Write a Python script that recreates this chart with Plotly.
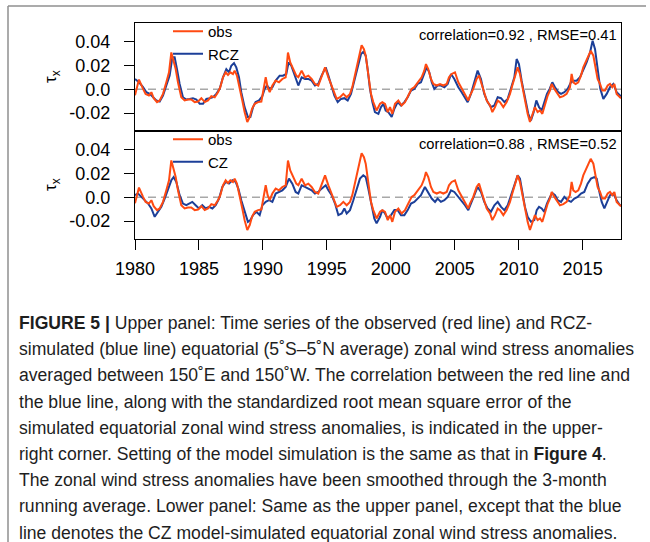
import plotly.graph_objects as go
from plotly.subplots import make_subplots

# ---------------- data ----------------
obs_t = [1980.00, 1980.31, 1980.63, 1980.83, 1981.09, 1981.28, 1981.46, 1981.72, 1981.93, 1982.19,
         1982.45, 1982.66, 1982.84, 1982.97, 1983.18, 1983.36, 1983.62, 1983.88, 1984.14, 1984.40,
         1984.67, 1984.93, 1985.19, 1985.45, 1985.71, 1985.97, 1986.23, 1986.49, 1986.67, 1986.88,
         1987.09, 1987.27, 1987.45, 1987.66, 1987.79, 1987.97, 1988.18, 1988.39, 1988.57, 1988.78,
         1988.97, 1989.15, 1989.36, 1989.62, 1989.88, 1990.06, 1990.22, 1990.37, 1990.53, 1990.74,
         1991.00, 1991.26, 1991.52, 1991.78, 1991.96, 1992.14, 1992.35, 1992.61, 1992.77, 1993.03,
         1993.29, 1993.55, 1993.81, 1994.07, 1994.33, 1994.59, 1994.86, 1995.12, 1995.32, 1995.51,
         1995.77, 1996.03, 1996.29, 1996.55, 1996.81, 1996.99, 1997.20, 1997.41, 1997.59, 1997.72,
         1997.90, 1998.04, 1998.24, 1998.45, 1998.63, 1998.89, 1999.16, 1999.34, 1999.55, 1999.76,
         1999.94, 2000.12, 2000.33, 2000.59, 2000.85, 2001.11, 2001.37, 2001.63, 2001.84, 2002.02,
         2002.21, 2002.41, 2002.62, 2002.75, 2002.93, 2003.14, 2003.33, 2003.59, 2003.85, 2004.11,
         2004.37, 2004.55, 2004.76, 2005.02, 2005.28, 2005.54, 2005.80, 2006.06, 2006.19, 2006.45,
         2006.71, 2006.90, 2007.10, 2007.31, 2007.50, 2007.76, 2007.94, 2008.15, 2008.36, 2008.54,
         2008.80, 2009.06, 2009.32, 2009.50, 2009.71, 2009.92, 2010.10, 2010.28, 2010.49, 2010.70,
         2010.88, 2011.07, 2011.27, 2011.48, 2011.67, 2011.85, 2012.06, 2012.27, 2012.45, 2012.58,
         2012.79, 2012.97, 2013.23, 2013.49, 2013.75, 2014.01, 2014.14, 2014.27, 2014.45, 2014.66,
         2014.87, 2015.05, 2015.24, 2015.44, 2015.63, 2015.84, 2015.97, 2016.17, 2016.36, 2016.54,
         2016.75, 2016.96, 2017.14, 2017.32, 2017.48, 2017.66, 2017.92, 2018.00]
obs_v = [-0.0050, 0.0081, 0.0003, -0.0039, -0.0053, -0.0025, -0.0075, -0.0108, -0.0094, -0.0039,
         0.0058, 0.0142, 0.0308, 0.0253, 0.0169, 0.0058, -0.0067, -0.0094, -0.0086, -0.0086,
         -0.0108, -0.0103, -0.0075, -0.0108, -0.0094, -0.0058, -0.0067, -0.0025, 0.0017, 0.0100,
         0.0142, 0.0119, 0.0142, 0.0128, 0.0156, 0.0114, 0.0017, -0.0094, -0.0192, -0.0275,
         -0.0233, -0.0164, -0.0122, -0.0108, -0.0103, -0.0011, 0.0100, 0.0017, -0.0025, 0.0031,
         0.0072, 0.0058, 0.0086, 0.0100, 0.0308, 0.0225, 0.0169, 0.0114, 0.0100, 0.0156,
         0.0100, 0.0114, 0.0086, 0.0044, 0.0031, 0.0114, 0.0183, 0.0100, 0.0044, -0.0025,
         -0.0081, -0.0067, -0.0039, -0.0067, -0.0039, 0.0017, 0.0128, 0.0225, 0.0308, 0.0369,
         0.0336, 0.0281, 0.0114, -0.0039, -0.0108, -0.0178, -0.0122, -0.0108, -0.0122, -0.0192,
         -0.0150, -0.0206, -0.0122, -0.0094, -0.0136, -0.0108, -0.0053, 0.0003, 0.0017, 0.0044,
         0.0064, 0.0100, 0.0156, 0.0211, 0.0169, 0.0086, 0.0044, 0.0031, 0.0044, 0.0031,
         0.0044, 0.0100, 0.0128, 0.0142, 0.0058, 0.0003, -0.0039, -0.0094, -0.0053, 0.0003,
         0.0086, 0.0114, 0.0044, -0.0039, -0.0094, -0.0136, -0.0192, -0.0150, -0.0094, -0.0108,
         -0.0150, -0.0108, -0.0039, 0.0031, 0.0114, 0.0183, 0.0128, 0.0017, -0.0108, -0.0206,
         -0.0275, -0.0219, -0.0150, -0.0192, -0.0178, -0.0206, -0.0122, -0.0053, -0.0011, 0.0044,
         0.0003, -0.0025, -0.0067, -0.0058, -0.0039, 0.0017, 0.0128, 0.0058, 0.0044, 0.0058,
         0.0114, 0.0183, 0.0225, 0.0281, 0.0322, 0.0281, 0.0197, 0.0086, 0.0044, -0.0011,
         -0.0011, 0.0031, 0.0044, 0.0017, 0.0044, -0.0039, -0.0067, -0.0075]

rcz_t = [1980.00, 1980.31, 1980.63, 1980.89, 1981.15, 1981.41, 1981.67, 1981.93, 1982.19, 1982.45,
         1982.71, 1982.92, 1983.10, 1983.28, 1983.49, 1983.75, 1984.01, 1984.27, 1984.53, 1984.80,
         1985.06, 1985.32, 1985.58, 1985.84, 1986.10, 1986.36, 1986.62, 1986.88, 1987.14, 1987.35,
         1987.53, 1987.74, 1987.92, 1988.13, 1988.31, 1988.57, 1988.83, 1989.02, 1989.23, 1989.43,
         1989.70, 1989.96, 1990.14, 1990.32, 1990.53, 1990.74, 1991.00, 1991.31, 1991.57, 1991.83,
         1992.01, 1992.22, 1992.48, 1992.77, 1993.03, 1993.29, 1993.55, 1993.81, 1994.07, 1994.33,
         1994.59, 1994.91, 1995.12, 1995.38, 1995.59, 1995.85, 1996.11, 1996.37, 1996.63, 1996.89,
         1997.15, 1997.41, 1997.67, 1997.85, 1998.04, 1998.19, 1998.37, 1998.56, 1998.76, 1999.03,
         1999.23, 1999.42, 1999.60, 1999.81, 2000.07, 2000.28, 2000.54, 2000.80, 2001.06, 2001.32,
         2001.58, 2001.84, 2002.10, 2002.36, 2002.62, 2002.80, 2003.01, 2003.20, 2003.40, 2003.66,
         2003.92, 2004.19, 2004.45, 2004.71, 2004.97, 2005.28, 2005.54, 2005.80, 2006.01, 2006.27,
         2006.53, 2006.79, 2007.05, 2007.31, 2007.57, 2007.83, 2008.10, 2008.36, 2008.62, 2008.88,
         2009.14, 2009.40, 2009.66, 2009.84, 2010.02, 2010.23, 2010.49, 2010.75, 2010.96, 2011.17,
         2011.38, 2011.59, 2011.80, 2012.00, 2012.21, 2012.42, 2012.63, 2012.84, 2013.10, 2013.31,
         2013.57, 2013.83, 2014.09, 2014.30, 2014.53, 2014.79, 2015.05, 2015.31, 2015.58, 2015.78,
         2015.97, 2016.17, 2016.38, 2016.62, 2016.88, 2017.14, 2017.40, 2017.66, 2017.92, 2018.00]
rcz_v = [0.0086, 0.0058, 0.0017, -0.0025, -0.0039, -0.0067, -0.0094, -0.0103, -0.0053, 0.0031,
         0.0114, 0.0267, 0.0267, 0.0169, 0.0044, -0.0067, -0.0086, -0.0081, -0.0075, -0.0086,
         -0.0122, -0.0122, -0.0081, -0.0075, -0.0067, -0.0039, 0.0003, 0.0100, 0.0169, 0.0142,
         0.0197, 0.0219, 0.0183, 0.0100, -0.0025, -0.0150, -0.0233, -0.0233, -0.0150, -0.0108,
         -0.0094, -0.0058, 0.0003, 0.0031, 0.0003, 0.0017, 0.0072, 0.0114, 0.0114, 0.0128,
         0.0225, 0.0197, 0.0114, 0.0031, 0.0100, 0.0086, 0.0086, 0.0072, 0.0031, 0.0044,
         0.0114, 0.0183, 0.0114, 0.0031, -0.0053, -0.0108, -0.0081, -0.0075, -0.0094, -0.0039,
         0.0072, 0.0197, 0.0294, 0.0314, 0.0281, 0.0169, 0.0003, -0.0108, -0.0192, -0.0206,
         -0.0150, -0.0122, -0.0178, -0.0192, -0.0233, -0.0164, -0.0108, -0.0136, -0.0108, -0.0067,
         -0.0011, 0.0003, 0.0044, 0.0058, 0.0142, 0.0183, 0.0142, 0.0058, 0.0003, 0.0031,
         0.0031, 0.0017, 0.0044, 0.0128, 0.0086, 0.0017, -0.0025, -0.0067, -0.0108, -0.0039,
         0.0058, 0.0156, 0.0086, -0.0039, -0.0108, -0.0150, -0.0136, -0.0067, -0.0075, -0.0108,
         -0.0081, 0.0003, 0.0100, 0.0253, 0.0211, 0.0072, -0.0081, -0.0206, -0.0261, -0.0192,
         -0.0094, -0.0150, -0.0178, -0.0108, -0.0039, 0.0003, 0.0058, 0.0017, -0.0025, -0.0039,
         -0.0025, 0.0003, 0.0058, 0.0072, 0.0072, 0.0100, 0.0156, 0.0225, 0.0308, 0.0406,
         0.0336, 0.0169, 0.0003, -0.0081, -0.0039, 0.0017, 0.0044, -0.0025, -0.0053, -0.0060]

cz_t = [1980.00, 1980.23, 1980.50, 1980.76, 1981.02, 1981.28, 1981.54, 1981.80, 1982.06, 1982.32,
        1982.58, 1982.84, 1983.02, 1983.23, 1983.49, 1983.75, 1984.01, 1984.27, 1984.48, 1984.74,
        1985.00, 1985.26, 1985.53, 1985.79, 1986.05, 1986.31, 1986.57, 1986.83, 1987.09, 1987.35,
        1987.61, 1987.87, 1988.08, 1988.31, 1988.57, 1988.83, 1989.02, 1989.23, 1989.49, 1989.75,
        1989.96, 1990.22, 1990.48, 1990.74, 1991.00, 1991.26, 1991.52, 1991.78, 1992.04, 1992.30,
        1992.56, 1992.77, 1993.03, 1993.29, 1993.55, 1993.81, 1994.07, 1994.33, 1994.59, 1994.91,
        1995.12, 1995.38, 1995.64, 1995.90, 1996.16, 1996.37, 1996.55, 1996.81, 1997.07, 1997.33,
        1997.59, 1997.85, 1998.04, 1998.24, 1998.45, 1998.71, 1998.89, 1999.16, 1999.34, 1999.55,
        1999.76, 2000.02, 2000.28, 2000.54, 2000.80, 2001.06, 2001.32, 2001.58, 2001.84, 2002.10,
        2002.36, 2002.67, 2002.93, 2003.20, 2003.46, 2003.66, 2003.92, 2004.19, 2004.45, 2004.71,
        2004.97, 2005.28, 2005.54, 2005.80, 2006.06, 2006.32, 2006.58, 2006.79, 2007.05, 2007.31,
        2007.57, 2007.83, 2008.10, 2008.36, 2008.62, 2008.88, 2009.14, 2009.40, 2009.66, 2009.92,
        2010.10, 2010.28, 2010.49, 2010.70, 2010.96, 2011.22, 2011.41, 2011.59, 2011.80, 2012.00,
        2012.21, 2012.45, 2012.63, 2012.84, 2013.05, 2013.31, 2013.57, 2013.83, 2014.09, 2014.35,
        2014.61, 2014.87, 2015.13, 2015.39, 2015.65, 2015.91, 2016.10, 2016.28, 2016.49, 2016.70,
        2016.90, 2017.14, 2017.40, 2017.66, 2017.92, 2018.00]
cz_v = [0.0017, 0.0031, 0.0003, -0.0025, -0.0053, -0.0094, -0.0164, -0.0122, -0.0081, -0.0011,
        0.0072, 0.0142, 0.0169, 0.0128, 0.0017, -0.0053, -0.0067, -0.0053, -0.0039, -0.0067,
        -0.0094, -0.0067, -0.0094, -0.0081, -0.0094, -0.0067, -0.0011, 0.0086, 0.0128, 0.0114,
        0.0142, 0.0128, 0.0072, -0.0025, -0.0122, -0.0206, -0.0192, -0.0150, -0.0122, -0.0150,
        -0.0067, -0.0039, -0.0025, -0.0039, 0.0031, 0.0044, 0.0058, 0.0086, 0.0156, 0.0114,
        0.0044, 0.0031, 0.0100, 0.0086, 0.0072, 0.0058, 0.0031, 0.0044, 0.0072, 0.0100,
        0.0058, 0.0017, -0.0053, -0.0150, -0.0136, -0.0094, -0.0136, -0.0108, -0.0025, 0.0072,
        0.0156, 0.0183, 0.0169, 0.0072, -0.0053, -0.0178, -0.0219, -0.0164, -0.0108, -0.0136,
        -0.0178, -0.0150, -0.0108, -0.0108, -0.0150, -0.0150, -0.0108, -0.0053, -0.0039, -0.0011,
        0.0017, 0.0086, 0.0044, -0.0011, -0.0039, -0.0011, -0.0039, -0.0025, 0.0003, 0.0058,
        0.0044, 0.0003, -0.0025, -0.0067, -0.0108, -0.0039, 0.0044, 0.0086, 0.0044, -0.0039,
        -0.0094, -0.0122, -0.0067, -0.0039, -0.0081, -0.0108, -0.0067, 0.0017, 0.0100, 0.0183,
        0.0156, 0.0044, -0.0081, -0.0164, -0.0206, -0.0192, -0.0108, -0.0081, -0.0094, -0.0122,
        -0.0053, 0.0003, 0.0036, 0.0017, -0.0025, -0.0039, 0.0003, -0.0025, -0.0039, -0.0011,
        0.0003, 0.0031, 0.0044, 0.0114, 0.0156, 0.0169, 0.0156, 0.0058, -0.0039, -0.0094,
        -0.0039, 0.0017, 0.0031, -0.0025, -0.0067, -0.0070]

x_tickvals = [1980, 1985, 1990, 1995, 2000, 2005, 2010, 2015]
x_ticktext = ["1980", "1985", "1990", "1995", "2000", "2005", "2010", "2015"]
y_tickvals = [-0.02, 0.0, 0.02, 0.04]
y_ticktext = ["-0.02", "0.0", "0.02", "0.04"]
model_names = ["RCZ", "CZ"]
stats_text = ["correlation=0.92 , RMSE=0.41", "correlation=0.88 , RMSE=0.52"]
caption_lines = [
    "<b>FIGURE 5 |</b> Upper panel: Time series of the observed (red line) and RCZ-",
    "simulated (blue line) equatorial (5˚S–5˚N average) zonal wind stress anomalies",
    "averaged between 150˚E and 150˚W. The correlation between the red line and",
    "the blue line, along with the standardized root mean square error of the",
    "simulated equatorial zonal wind stress anomalies, is indicated in the upper-",
    "right corner. Setting of the model simulation is the same as that in <b>Figure 4</b>.",
    "The zonal wind stress anomalies have been smoothed through the 3-month",
    "running average. Lower panel: Same as the upper panel, except that the blue",
    "line denotes the CZ model-simulated equatorial zonal wind stress anomalies.",
]

# ---------------- styling ----------------
RED = "#ff4a12"
BLUE = "#1c3f98"
FONT = "Liberation Sans, Arial, sans-serif"
W, H = 650, 542
ML, MR, MT, MB = 135, 29, 23, 303
PW, PH = W - ML - MR, H - MT - MB


def px_x(px):
    return (px - ML) / PW


def px_y(py):
    return (H - MB - py) / PH


fig = make_subplots(rows=2, cols=1, shared_xaxes=True, vertical_spacing=0)

model_series = [(rcz_t, rcz_v), (cz_t, cz_v)]
for i, (mt, mv) in enumerate(model_series):
    row = i + 1
    leg = "legend" if i == 0 else "legend2"
    fig.add_trace(go.Scatter(x=mt, y=mv, mode="lines", name=model_names[i],
                             line=dict(color=BLUE, width=2), legend=leg), row=row, col=1)
    fig.add_trace(go.Scatter(x=obs_t, y=obs_v, mode="lines", name="obs",
                             line=dict(color=RED, width=2), legend=leg), row=row, col=1)
    fig.add_hline(y=0, line=dict(color="#a8a8a8", width=1.5, dash="8px,5px"),
                  row=row, col=1, layer="below")

common_x = dict(range=[1980, 2018], showline=True, mirror=True, linecolor="black",
                linewidth=1.2, showgrid=False, zeroline=False)
fig.update_xaxes(**common_x, ticks="", showticklabels=False, row=1, col=1)
fig.update_xaxes(**common_x, ticks="outside", ticklen=10, tickwidth=1.2, tickcolor="black",
                 tickvals=x_tickvals, ticktext=x_ticktext, ticklabelstandoff=3,
                 tickfont=dict(size=18, color="black", family=FONT), row=2, col=1)
fig.update_yaxes(range=[-0.035, 0.0555], showline=True, mirror=True, linecolor="black",
                 linewidth=1.2, showgrid=False, zeroline=False, ticks="outside", ticklen=10,
                 tickwidth=1.2, tickcolor="black", tickvals=y_tickvals, ticktext=y_ticktext,
                 tickfont=dict(size=18, color="black", family=FONT), ticklabelstandoff=10)

annotations = []
panel_text_y = [35, 144]
panel_center_y = [77, 185]
for i in range(2):
    annotations.append(dict(text=stats_text[i], xref="paper", yref="paper",
                            x=px_x(619), y=px_y(panel_text_y[i]), xanchor="right", yanchor="middle",
                            showarrow=False, font=dict(size=14.7, color="black", family=FONT)))
    annotations.append(dict(text="τ<sub>x</sub>", xref="paper", yref="paper",
                            x=px_x(52), y=px_y(panel_center_y[i]), xanchor="center", yanchor="middle",
                            textangle=-90, showarrow=False,
                            font=dict(size=17, color="black", family=FONT)))
for j, line in enumerate(caption_lines):
    annotations.append(dict(text=line, xref="paper", yref="paper",
                            x=px_x(17), y=px_y(323 + 26.2 * j), xanchor="left", yanchor="middle",
                            showarrow=False, font=dict(size=17.6, color="#1e1e1e", family=FONT)))

shapes = [
    dict(type="line", xref="paper", yref="paper", x0=px_x(8), x1=px_x(646),
         y0=px_y(6), y1=px_y(6), line=dict(color="#8f8f8f", width=1.5)),
    dict(type="line", xref="paper", yref="paper", x0=px_x(8), x1=px_x(8),
         y0=px_y(6), y1=px_y(548), line=dict(color="#8f8f8f", width=1.5)),
]

legend_common = dict(xanchor="left", yanchor="top", bgcolor="rgba(0,0,0,0)",
                     font=dict(size=15, color="black", family=FONT), itemwidth=30,
                     traceorder="reversed", tracegroupgap=0, borderwidth=0)
fig.update_layout(
    width=W, height=H, autosize=False,
    margin=dict(l=ML, r=MR, t=MT, b=MB, autoexpand=False),
    paper_bgcolor="white", plot_bgcolor="white",
    font=dict(family=FONT, color="black"),
    legend=dict(**legend_common, x=px_x(168), y=px_y(15)),
    legend2=dict(**legend_common, x=px_x(168), y=px_y(123)),
    annotations=annotations,
    shapes=fig.layout.shapes + tuple(shapes),
)

fig.write_html("out.html")
